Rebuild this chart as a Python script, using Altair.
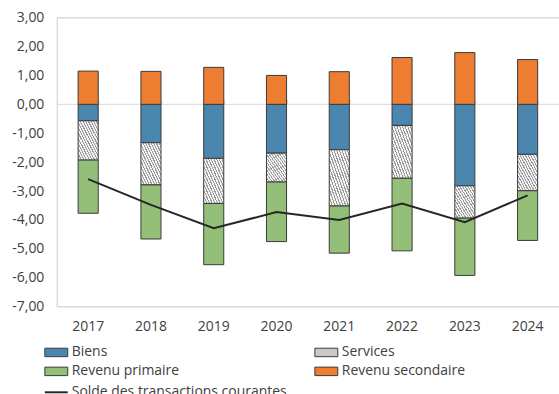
import altair as alt
import pandas as pd

# ---------------- data ----------------
years = ["2017", "2018", "2019", "2020", "2021", "2022", "2023", "2024"]
biens = [-0.57, -1.33, -1.87, -1.69, -1.57, -0.73, -2.82, -1.73]
services = [-1.36, -1.46, -1.56, -1.00, -1.95, -1.83, -1.12, -1.26]
revenu_primaire = [-1.84, -1.87, -2.12, -2.06, -1.63, -2.51, -1.98, -1.72]
revenu_secondaire = [1.15, 1.14, 1.28, 1.00, 1.13, 1.62, 1.79, 1.55]
solde = [-2.59, -3.48, -4.29, -3.73, -4.00, -3.43, -4.08, -3.15]

categories = ["Biens", "Services", "Revenu primaire", "Revenu secondaire"]
legend_order = ["Biens", "Revenu primaire", "Services", "Revenu secondaire"]
line_name = "Solde des transactions courantes"
y_ticks = [3, 2, 1, 0, -1, -2, -3, -4, -5, -6, -7]
frame_lines = [3, 0, -7]

# ---------------- tables ----------------
series = [biens, services, revenu_primaire, revenu_secondaire]
rows = []
for k, (cat, vals) in enumerate(zip(categories, series)):
    for yr, v in zip(years, vals):
        rows.append({"year": yr, "cat": cat, "value": v, "ord": k})
df_bars = pd.DataFrame(rows)
df_line = pd.DataFrame({"year": years, "solde": solde, "serie": line_name})
df_frame = pd.DataFrame({"v": frame_lines})

# ---------------- styles ----------------
FONT = "Open Sans"
TXT = "#404040"
GRID = "#d9d9d9"
color_of = {
    "Biens": "#4a86ad",
    "Services": "#c8c8c8",
    "Revenu primaire": "#94bf78",
    "Revenu secondaire": "#ed7d31",
}

stops = []
n_stripes = 15
for i in range(n_stripes):
    a = i / n_stripes
    b = (i + 0.42) / n_stripes
    c = (i + 1) / n_stripes
    stops += [
        {"offset": a, "color": "#999999"},
        {"offset": b, "color": "#999999"},
        {"offset": b, "color": "#f4f4f4"},
        {"offset": c, "color": "#f4f4f4"},
    ]
hatch = {"gradient": "linear", "x1": 0, "y1": 1, "x2": 1, "y2": 0, "stops": stops}

x_scale = alt.Scale(domain=years, paddingInner=0.68, paddingOuter=0.34)
y_scale = alt.Scale(domain=[-7, 3], nice=False, zero=False)

label_expr = "replace(replace(format(datum.value, '.2f'), '.', ','), '\u2212', '-')"

y_axis = alt.Axis(
    values=y_ticks,
    labelExpr=label_expr,
    labelFont=FONT,
    labelFontSize=14,
    labelColor=TXT,
    labelPadding=13,
    ticks=False,
    domain=True,
    domainColor=GRID,
    grid=False,
    title=None,
)

frame = alt.Chart(df_frame).mark_rule(color=GRID, strokeWidth=1).encode(
    y=alt.Y("v:Q", scale=y_scale, axis=y_axis)
)

bars = alt.Chart(df_bars).mark_bar(stroke="#3a3a3a", strokeWidth=1).encode(
    x=alt.X(
        "year:N",
        scale=x_scale,
        sort=years,
        axis=alt.Axis(
            orient="bottom",
            title=None,
            labelAngle=0,
            labelFont=FONT,
            labelFontSize=14,
            labelColor=TXT,
            labelPadding=13,
            ticks=False,
            domain=False,
            grid=False,
        ),
    ),
    y=alt.Y("value:Q", scale=y_scale, stack="zero", axis=y_axis),
    fill=alt.condition(
        alt.datum.cat == "Services",
        alt.value(hatch),
        alt.Fill(
            "cat:N",
            scale=alt.Scale(domain=legend_order, range=[color_of[c] for c in legend_order]),
            legend=alt.Legend(
                title=None,
                orient="none",
                legendX=-14,
                legendY=329,
                columns=2,
                columnPadding=134,
                rowPadding=5,
                padding=0,
                symbolType="M-1,-0.85H3.6V0.85H-1Z",
                symbolSize=100,
                symbolStrokeColor="#3a3a3a",
                symbolStrokeWidth=1,
                labelOffset=15,
                labelFont=FONT,
                labelFontSize=14,
                labelColor=TXT,
                labelLimit=300,
            ),
        ),
    ),
    order=alt.Order("ord:Q"),
)

line = alt.Chart(df_line).mark_line(strokeWidth=2).encode(
    x=alt.X(
        "year:N",
        scale=x_scale,
        sort=years,
        axis=alt.Axis(
            orient="top",
            offset=-87,
            title=None,
            labels=False,
            domain=False,
            grid=False,
            ticks=True,
            tickBand="extent",
            tickSize=5,
            tickColor=GRID,
        ),
    ),
    y=alt.Y("solde:Q", scale=y_scale, axis=y_axis),
    stroke=alt.Stroke(
        "serie:N",
        scale=alt.Scale(domain=[line_name], range=["#262626"]),
        legend=alt.Legend(
            title=None,
            orient="none",
            legendX=-14,
            legendY=369,
            padding=0,
            symbolType="M-1,0H3.6",
            symbolSize=100,
            symbolStrokeWidth=2,
            symbolFillColor="transparent",
            labelOffset=15,
            labelFont=FONT,
            labelFontSize=14,
            labelColor=TXT,
            labelLimit=400,
        ),
    ),
)

chart = (
    alt.layer(frame, bars, line)
    .resolve_axis(x="independent")
    .properties(
        width=504,
        height=290,
        padding={"left": 57, "top": 17, "right": 0, "bottom": 87},
        autosize=alt.AutoSizeParams(type="none"),
    )
    .configure_view(stroke=None)
    .configure(background="white")
)

chart.save("out.html", embed_options={"renderer": "svg", "actions": False})
